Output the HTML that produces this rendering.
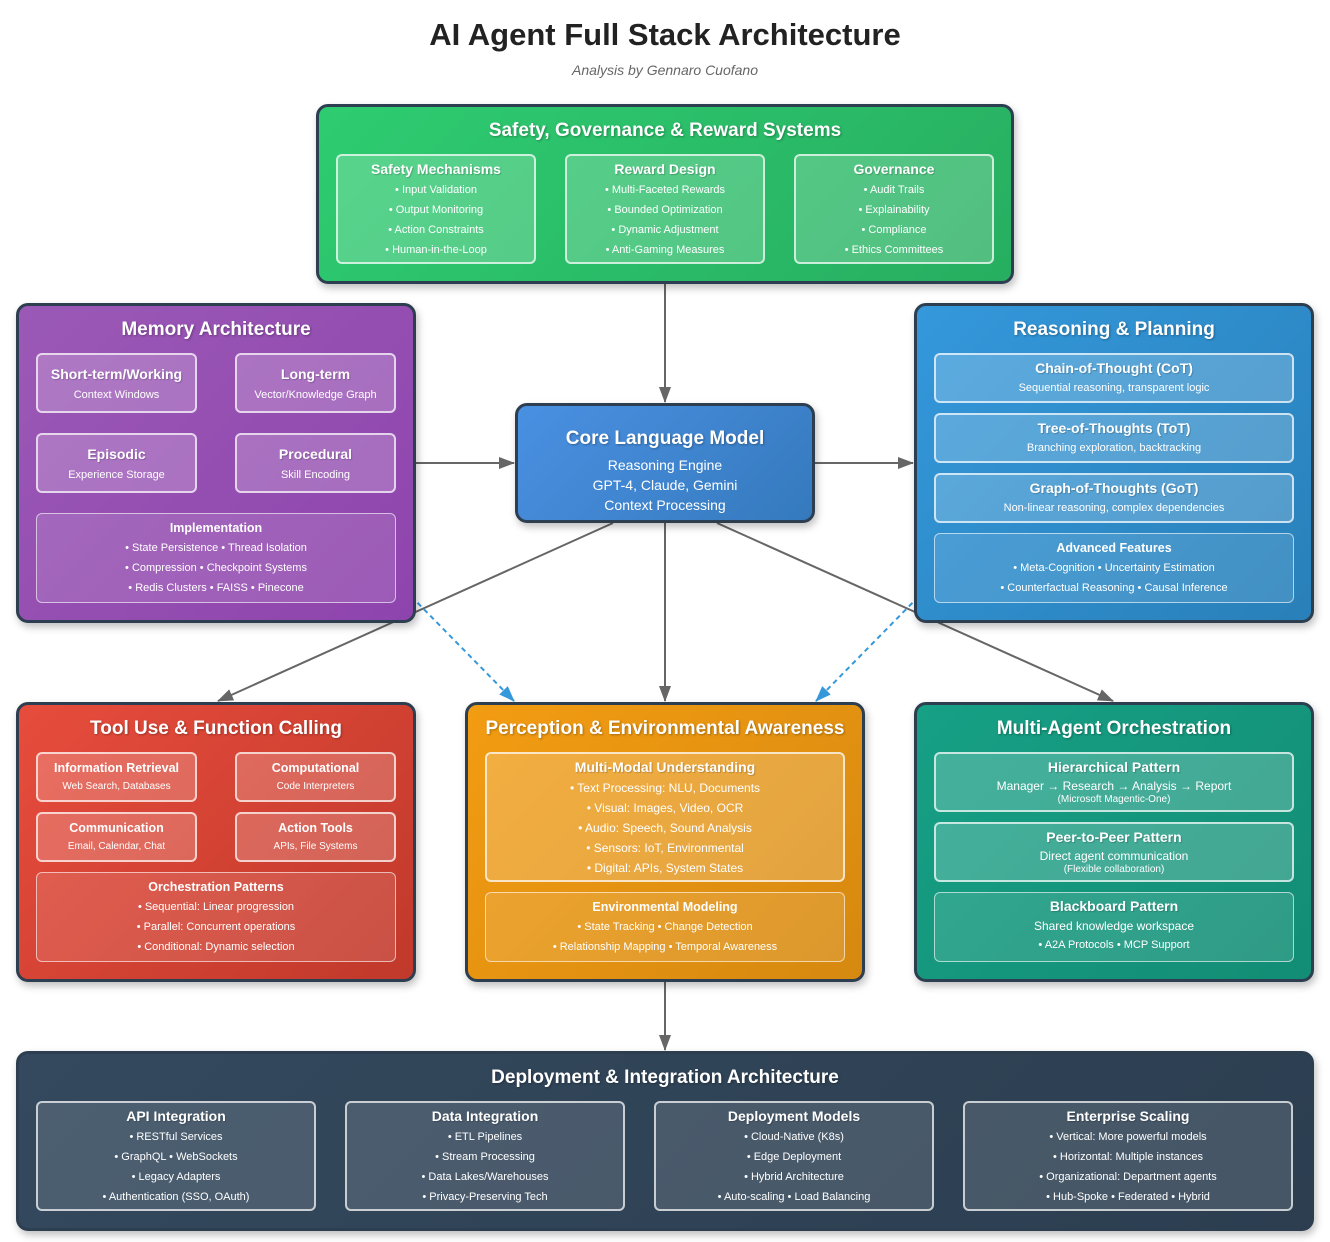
<!DOCTYPE html>
<html><head><meta charset="utf-8"><style>
*{margin:0;padding:0;box-sizing:border-box}
body{width:1330px;height:1242px;background:#fff;font-family:"Liberation Sans",Arial,sans-serif;position:relative;overflow:hidden}
.t{position:absolute;left:0;width:1330px;text-align:center}
.L{position:absolute;border:3px solid #2c3e50;border-radius:12px;color:#fff;box-shadow:2px 4px 8px rgba(0,0,0,0.25);z-index:1}
.L h2{position:absolute;left:0;right:0;text-align:center;font-size:19px;font-weight:bold;text-shadow:1px 1px 2px rgba(0,0,0,0.3)}
.b{position:absolute;border:2px solid rgba(255,255,255,0.7);border-radius:6px;background:rgba(255,255,255,0.2);text-align:center;color:#fff}
.b.s{border:1px solid rgba(255,255,255,0.6);background:rgba(255,255,255,0.12)}
.b h3{font-size:14px;font-weight:bold;line-height:16px;margin-top:5px;margin-bottom:3px;text-shadow:1px 1px 1px rgba(0,0,0,0.2)}
.b h4{font-size:12.5px;font-weight:bold;line-height:16px;margin-top:6px;margin-bottom:2px}
.b p{font-size:11px;line-height:20px}
.b p.m{font-size:12px;line-height:20px}
.b p.x{font-size:10px;line-height:11px}
svg{position:absolute;left:0;top:0;z-index:0}
</style></head><body>
<div class="t" style="top:17px;font-size:31px;font-weight:bold;color:#222">AI Agent Full Stack Architecture</div>
<div class="t" style="top:62px;font-size:14px;font-style:italic;color:#666">Analysis by Gennaro Cuofano</div>

<svg width="1330" height="1242">
<defs><marker id="a" markerWidth="16" markerHeight="12" refX="15" refY="6" orient="auto" markerUnits="userSpaceOnUse"><path d="M0,0L16,6L0,12z" fill="#666"/></marker>
<marker id="d" markerWidth="16" markerHeight="12" refX="15" refY="6" orient="auto" markerUnits="userSpaceOnUse"><path d="M0,0L16,6L0,12z" fill="#3498db"/></marker></defs>
<g stroke="#666" stroke-width="2" fill="none">
<line x1="665" y1="284" x2="665" y2="402" marker-end="url(#a)"/>
<line x1="416" y1="463" x2="514" y2="463" marker-end="url(#a)"/>
<line x1="815" y1="463" x2="913" y2="463" marker-end="url(#a)"/>
<line x1="613" y1="523" x2="218" y2="701" marker-end="url(#a)"/>
<line x1="665" y1="523" x2="665" y2="701" marker-end="url(#a)"/>
<line x1="717" y1="523" x2="1113" y2="701" marker-end="url(#a)"/>
<line x1="665" y1="982" x2="665" y2="1050" marker-end="url(#a)"/>
</g>
<g stroke="#3498db" stroke-width="2" stroke-dasharray="5,4" fill="none">
<line x1="405" y1="590" x2="514" y2="701" marker-end="url(#d)"/>
<line x1="925" y1="590" x2="816" y2="701" marker-end="url(#d)"/>
</g>
</svg>

<div class="L" style="left:316px;top:104px;width:698px;height:180px;background:linear-gradient(135deg,#2ecc71,#27ae60)">
<h2 style="top:13px">Safety, Governance &amp; Reward Systems</h2>
<div class="b" style="left:17px;top:47px;width:200px;height:110px"><h3>Safety Mechanisms</h3><p>• Input Validation</p><p>• Output Monitoring</p><p>• Action Constraints</p><p>• Human-in-the-Loop</p></div>
<div class="b" style="left:246px;top:47px;width:200px;height:110px"><h3>Reward Design</h3><p>• Multi-Faceted Rewards</p><p>• Bounded Optimization</p><p>• Dynamic Adjustment</p><p>• Anti-Gaming Measures</p></div>
<div class="b" style="left:475px;top:47px;width:200px;height:110px"><h3>Governance</h3><p>• Audit Trails</p><p>• Explainability</p><p>• Compliance</p><p>• Ethics Committees</p></div>
</div>

<div class="L" style="left:16px;top:303px;width:400px;height:320px;background:linear-gradient(135deg,#9b59b6,#8e44ad)">
<h2 style="top:13px">Memory Architecture</h2>
<div class="b" style="left:17px;top:47px;width:161px;height:60px"><h3 style="margin-top:11px">Short-term/Working</h3><p>Context Windows</p></div>
<div class="b" style="left:216px;top:47px;width:161px;height:60px"><h3 style="margin-top:11px">Long-term</h3><p>Vector/Knowledge Graph</p></div>
<div class="b" style="left:17px;top:127px;width:161px;height:60px"><h3 style="margin-top:11px">Episodic</h3><p>Experience Storage</p></div>
<div class="b" style="left:216px;top:127px;width:161px;height:60px"><h3 style="margin-top:11px">Procedural</h3><p>Skill Encoding</p></div>
<div class="b s" style="left:17px;top:207px;width:360px;height:90px"><h4>Implementation</h4><p>• State Persistence • Thread Isolation</p><p>• Compression • Checkpoint Systems</p><p>• Redis Clusters • FAISS • Pinecone</p></div>
</div>

<div class="L" style="left:515px;top:403px;width:300px;height:120px;background:linear-gradient(135deg,#4a90e2,#357abd);text-align:center">
<div style="font-size:19px;font-weight:bold;margin-top:22px;text-shadow:1px 1px 2px rgba(0,0,0,0.3)">Core Language Model</div>
<div style="font-size:14px;line-height:20px;margin-top:5px">Reasoning Engine<br>GPT-4, Claude, Gemini<br>Context Processing</div>
</div>

<div class="L" style="left:914px;top:303px;width:400px;height:320px;background:linear-gradient(135deg,#3498db,#2980b9)">
<h2 style="top:13px">Reasoning &amp; Planning</h2>
<div class="b" style="left:17px;top:47px;width:360px;height:50px"><h3>Chain-of-Thought (CoT)</h3><p style="line-height:18px">Sequential reasoning, transparent logic</p></div>
<div class="b" style="left:17px;top:107px;width:360px;height:50px"><h3>Tree-of-Thoughts (ToT)</h3><p style="line-height:18px">Branching exploration, backtracking</p></div>
<div class="b" style="left:17px;top:167px;width:360px;height:50px"><h3>Graph-of-Thoughts (GoT)</h3><p style="line-height:18px">Non-linear reasoning, complex dependencies</p></div>
<div class="b s" style="left:17px;top:227px;width:360px;height:70px"><h4>Advanced Features</h4><p>• Meta-Cognition • Uncertainty Estimation</p><p>• Counterfactual Reasoning • Causal Inference</p></div>
</div>

<div class="L" style="left:16px;top:702px;width:400px;height:280px;background:linear-gradient(135deg,#e74c3c,#c0392b)">
<h2 style="top:13px">Tool Use &amp; Function Calling</h2>
<div class="b" style="left:17px;top:47px;width:161px;height:50px"><h4>Information Retrieval</h4><p style="font-size:10px;line-height:18px">Web Search, Databases</p></div>
<div class="b" style="left:216px;top:47px;width:161px;height:50px"><h4>Computational</h4><p style="font-size:10px;line-height:18px">Code Interpreters</p></div>
<div class="b" style="left:17px;top:107px;width:161px;height:50px"><h4>Communication</h4><p style="font-size:10px;line-height:18px">Email, Calendar, Chat</p></div>
<div class="b" style="left:216px;top:107px;width:161px;height:50px"><h4>Action Tools</h4><p style="font-size:10px;line-height:18px">APIs, File Systems</p></div>
<div class="b s" style="left:17px;top:167px;width:360px;height:90px"><h4>Orchestration Patterns</h4><p>• Sequential: Linear progression</p><p>• Parallel: Concurrent operations</p><p>• Conditional: Dynamic selection</p></div>
</div>

<div class="L" style="left:465px;top:702px;width:400px;height:280px;background:linear-gradient(135deg,#f39c12,#d68910)">
<h2 style="top:13px">Perception &amp; Environmental Awareness</h2>
<div class="b" style="left:17px;top:47px;width:360px;height:130px"><h3>Multi-Modal Understanding</h3><p class="m">• Text Processing: NLU, Documents</p><p class="m">• Visual: Images, Video, OCR</p><p class="m">• Audio: Speech, Sound Analysis</p><p class="m">• Sensors: IoT, Environmental</p><p class="m">• Digital: APIs, System States</p></div>
<div class="b s" style="left:17px;top:187px;width:360px;height:70px"><h4>Environmental Modeling</h4><p>• State Tracking • Change Detection</p><p>• Relationship Mapping • Temporal Awareness</p></div>
</div>

<div class="L" style="left:914px;top:702px;width:400px;height:280px;background:linear-gradient(135deg,#16a085,#138d75)">
<h2 style="top:13px">Multi-Agent Orchestration</h2>
<div class="b" style="left:17px;top:47px;width:360px;height:60px"><h3>Hierarchical Pattern</h3><p class="m" style="line-height:16px">Manager → Research → Analysis → Report</p><p class="x">(Microsoft Magentic-One)</p></div>
<div class="b" style="left:17px;top:117px;width:360px;height:60px"><h3>Peer-to-Peer Pattern</h3><p class="m" style="line-height:16px">Direct agent communication</p><p class="x">(Flexible collaboration)</p></div>
<div class="b s" style="left:17px;top:187px;width:360px;height:70px"><h3>Blackboard Pattern</h3><p class="m" style="line-height:18px">Shared knowledge workspace</p><p style="line-height:20px">• A2A Protocols • MCP Support</p></div>
</div>

<div class="L" style="left:16px;top:1051px;width:1298px;height:180px;background:linear-gradient(135deg,#34495e,#2c3e50)">
<h2 style="top:13px">Deployment &amp; Integration Architecture</h2>
<div class="b" style="left:17px;top:47px;width:280px;height:110px;background:rgba(255,255,255,0.12)"><h3>API Integration</h3><p>• RESTful Services</p><p>• GraphQL • WebSockets</p><p>• Legacy Adapters</p><p>• Authentication (SSO, OAuth)</p></div>
<div class="b" style="left:326px;top:47px;width:280px;height:110px;background:rgba(255,255,255,0.12)"><h3>Data Integration</h3><p>• ETL Pipelines</p><p>• Stream Processing</p><p>• Data Lakes/Warehouses</p><p>• Privacy-Preserving Tech</p></div>
<div class="b" style="left:635px;top:47px;width:280px;height:110px;background:rgba(255,255,255,0.12)"><h3>Deployment Models</h3><p>• Cloud-Native (K8s)</p><p>• Edge Deployment</p><p>• Hybrid Architecture</p><p>• Auto-scaling • Load Balancing</p></div>
<div class="b" style="left:944px;top:47px;width:330px;height:110px;background:rgba(255,255,255,0.12)"><h3>Enterprise Scaling</h3><p>• Vertical: More powerful models</p><p>• Horizontal: Multiple instances</p><p>• Organizational: Department agents</p><p>• Hub-Spoke • Federated • Hybrid</p></div>
</div>
</body></html>
